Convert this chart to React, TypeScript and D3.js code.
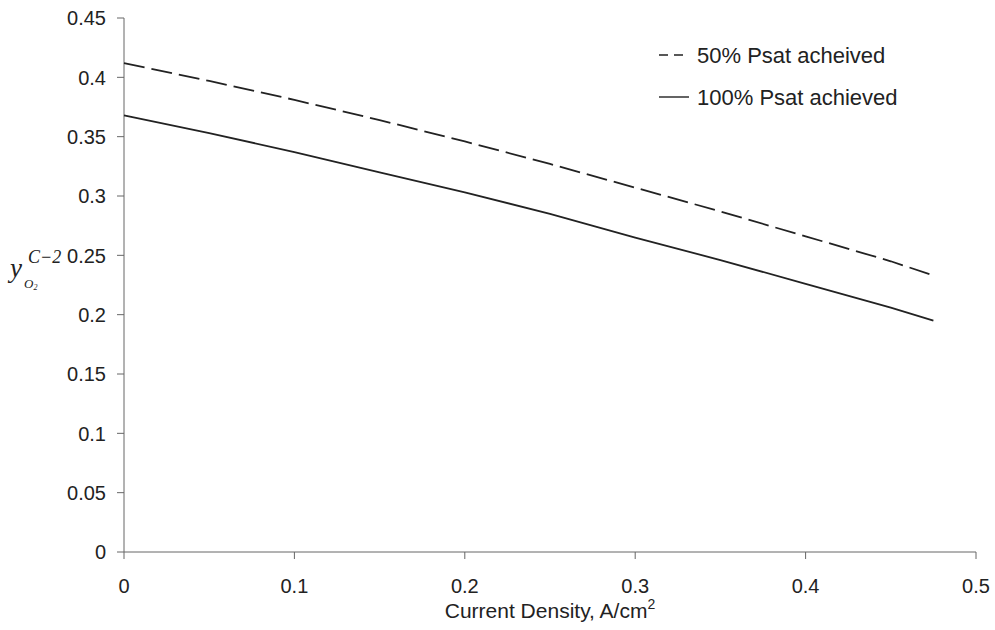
import React from 'react'
import * as d3 from 'd3'

const currentDensity = [0, 0.05, 0.1, 0.15, 0.2, 0.25, 0.3, 0.35, 0.4, 0.45, 0.475]
const psat50 = [0.412, 0.397, 0.381, 0.364, 0.346, 0.327, 0.307, 0.287, 0.266, 0.245, 0.233]
const psat100 = [0.368, 0.353, 0.337, 0.32, 0.303, 0.285, 0.265, 0.246, 0.226, 0.206, 0.195]
const xTicks = [0, 0.1, 0.2, 0.3, 0.4, 0.5]
const yTicks = [0, 0.05, 0.1, 0.15, 0.2, 0.25, 0.3, 0.35, 0.4, 0.45]
const seriesNames = ['50% Psat acheived', '100% Psat achieved']

const width = 995
const height = 630
const font = 'Liberation Sans, Arial, sans-serif'
const ink = '#222'
const axisColor = '#666'

const x = d3.scaleLinear().domain([0, 0.5]).range([124, 976])
const y = d3.scaleLinear().domain([0, 0.45]).range([552, 18])

const line = d3
  .line<number>()
  .x((d, i) => x(currentDensity[i]))
  .y(d => y(d))

const App = () => {
  const series = [
    { name: seriesNames[0], values: psat50, dash: '21,7', legendDash: '9,6' },
    { name: seriesNames[1], values: psat100, dash: null, legendDash: null },
  ]
  return (
    <div style={{ position: 'absolute', left: 0, top: 0 }}>
      <svg width={width} height={height} style={{ display: 'block', background: '#fff' }}>
        {/* axes */}
        <line x1={x(0)} x2={x(0.5)} y1={y(0)} y2={y(0)} stroke={axisColor} strokeWidth={1} />
        <line x1={x(0)} x2={x(0)} y1={y(0)} y2={y(0.45)} stroke={axisColor} strokeWidth={1} />
        {xTicks.map(t => (
          <g key={'x' + t}>
            <line x1={x(t)} x2={x(t)} y1={y(0)} y2={y(0) + 7} stroke={axisColor} />
            <text x={x(t)} y={593} textAnchor="middle" fontFamily={font} fontSize={20} fill={ink}>
              {d3.format('~g')(t)}
            </text>
          </g>
        ))}
        {yTicks.map(t => (
          <g key={'y' + t}>
            <line x1={x(0) - 7} x2={x(0)} y1={y(t)} y2={y(t)} stroke={axisColor} />
            <text x={106} y={y(t)} dy="0.36em" textAnchor="end" fontFamily={font} fontSize={20} fill={ink}>
              {d3.format('~g')(t)}
            </text>
          </g>
        ))}

        {/* series */}
        {series.map(s => (
          <path
            key={s.name}
            d={line(s.values) || ''}
            fill="none"
            stroke={ink}
            strokeWidth={1.8}
            strokeDasharray={s.dash || undefined}
          />
        ))}

        {/* legend */}
        {series.map((s, i) => (
          <g key={'lg' + i} transform={`translate(0 ${55 + i * 42})`}>
            <line x1={659} x2={689} y1={0} y2={0} stroke={ink} strokeWidth={1.4} strokeDasharray={s.legendDash || undefined} />
            <text x={697} y={0} dy="0.36em" fontFamily={font} fontSize={22} fill={ink}>
              {s.name}
            </text>
          </g>
        ))}

        {/* axis titles */}
        <text x={550} y={618} textAnchor="middle" fontFamily={font} fontSize={21} fill={ink}>
          Current Density, A/cm
          <tspan dy={-9} fontSize={14}>2</tspan>
        </text>
        <g fontFamily="Liberation Serif, Times New Roman, serif" fill={ink} fontStyle="italic">
          <text x={10} y={277} fontSize={27}>y</text>
          <text x={28} y={263} fontSize={18}>C−2</text>
          <text x={24} y={288} fontSize={13}>
            O<tspan fontSize={8} dy={2}>2</tspan>
          </text>
        </g>
      </svg>
    </div>
  )
}

export default App
